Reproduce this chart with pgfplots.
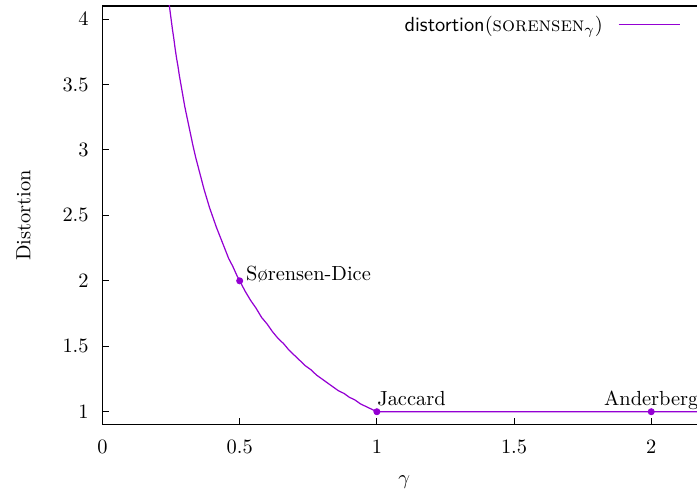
\documentclass[border=0pt]{standalone}
\usepackage{pgfplots}
\pgfplotsset{compat=1.18}
\definecolor{gpviolet}{HTML}{9400D3}
\begin{document}
\begin{tikzpicture}
\useasboundingbox (-1.765cm,-1.222cm) rectangle (10.237cm,7.315cm);
\begin{axis}[
  at={(0,0)}, anchor=south west,
  scale only axis, width=10.394cm, height=7.212cm,
  xmin=0, xmax=2.2, ymin=0.9, ymax=4.1,
  xtick={0,0.5,1,1.5,2},
  ytick={1,1.5,2,2.5,3,3.5,4},
  xtick pos=bottom, ytick pos=left,
  tick align=inside,
  major tick length=0.11cm,
  axis line style={line width=0.6pt},
  every tick/.style={black, line width=0.5pt},
  xticklabel style={anchor=center, inner sep=0pt, yshift=-0.374cm},
  yticklabel style={anchor=east, inner sep=0pt, xshift=-0.232cm},
  xlabel={$\gamma$},
  ylabel={Distortion},
  every axis x label/.style={at={([yshift=-0.98cm]axis description cs:0.5,0)}, anchor=center},
  every axis y label/.style={at={([xshift=-1.36cm]axis description cs:0,0.5)}, anchor=center, rotate=90},
  legend style={at={(0.957,0.953)}, anchor=east, draw=none, fill=none,
    inner sep=0pt, outer sep=0pt, nodes={inner sep=0pt}, column sep=0.26cm},
  legend plot pos=right,
  legend image code/.code={\draw[draw=gpviolet, line width=0.6pt] (0cm,0.5pt) -- (1.05cm,0.5pt);},
]

% curve
\addplot[draw=gpviolet, line width=0.6pt] coordinates {
  (0.240,4.17)(0.245,4.08)(0.250,4.00)(0.255,3.92)(0.260,3.85)(0.265,3.77)
  (0.270,3.70)(0.275,3.64)(0.280,3.57)(0.290,3.45)(0.300,3.33)(0.310,3.23)
  (0.320,3.13)(0.330,3.03)(0.340,2.94)(0.350,2.86)(0.360,2.78)(0.370,2.70)
  (0.380,2.63)(0.390,2.56)(0.400,2.50)(0.415,2.41)(0.430,2.33)(0.445,2.25)
  (0.460,2.17)(0.475,2.11)(0.490,2.04)(0.500,2.00)(0.520,1.92)(0.540,1.85)
  (0.560,1.79)(0.580,1.72)(0.600,1.67)(0.620,1.61)(0.640,1.56)(0.660,1.52)
  (0.680,1.47)(0.700,1.43)(0.720,1.39)(0.740,1.35)(0.760,1.32)(0.780,1.28)
  (0.800,1.25)(0.820,1.22)(0.840,1.19)(0.860,1.16)(0.880,1.14)(0.900,1.11)
  (0.920,1.09)(0.940,1.06)(0.960,1.04)(0.980,1.02)(1.000,1.00)
  (1.500,1.00)(2.000,1.00)(2.200,1.00)
};
\addlegendentry{\textsf{distortion}$($\textsc{sorensen}$_\gamma)$}

\addplot[gpviolet, only marks, mark=*, mark size=1.5pt, forget plot] coordinates {
  (0.5,2)(1,1)(2,1)
};

\node[anchor=base west, inner sep=0pt, xshift=3pt] at (axis cs:0.5,2) {S\o rensen-Dice};
\node[anchor=base west, inner sep=0pt, yshift=3pt] at (axis cs:1,1) {Jaccard};
\node[anchor=base, inner sep=0pt, yshift=3pt] at (axis cs:2,1) {Anderberg};
\end{axis}
\end{tikzpicture}
\end{document}
